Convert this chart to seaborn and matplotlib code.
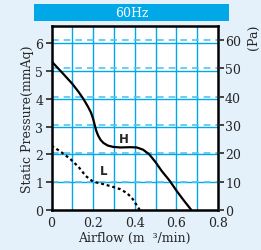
import numpy as np
import matplotlib
matplotlib.use("Agg")
import matplotlib.pyplot as plt
import seaborn as sns
import pandas as pd

# curve data (airflow m3/min, static pressure mmAq)
h_flow = [0.0, 0.05, 0.1, 0.13, 0.153, 0.175, 0.19, 0.2, 0.208, 0.215, 0.224, 0.236, 0.25, 0.27, 0.296,
          0.33, 0.38, 0.41, 0.44, 0.47, 0.5, 0.53, 0.568, 0.6, 0.635, 0.672]
h_pres = [5.35, 4.95, 4.54, 4.25, 4.0, 3.72, 3.5, 3.28, 3.05, 2.85, 2.68, 2.52, 2.41, 2.32, 2.27,
          2.25, 2.26, 2.25, 2.17, 2.0, 1.72, 1.4, 1.05, 0.7, 0.35, 0.0]
l_flow = [0.0, 0.04, 0.088, 0.13, 0.165, 0.2, 0.25, 0.296, 0.33, 0.36, 0.385, 0.4, 0.424]
l_pres = [2.31, 2.12, 1.85, 1.55, 1.22, 1.02, 0.93, 0.83, 0.75, 0.62, 0.45, 0.28, 0.0]

x_ticks = [0, 0.2, 0.4, 0.6, 0.8]
mmaq_ticks = [0, 1, 2, 3, 4, 5, 6]
pa_ticks = [0, 10, 20, 30, 40, 50, 60]
PA_PER_MMAQ = 9.80665

BG = "#e4f1fb"
BLUE = "#00a8e8"

sns.set_style("white")
plt.rcParams["font.family"] = ["DejaVu Serif"]

fig = plt.figure(figsize=(2.61, 2.51), dpi=100, facecolor=BG)
ax = fig.add_axes([51.5 / 261, 1 - 211 / 251, 166.5 / 261, 184 / 251])
ax.set_facecolor("white")

ymax = 6.62
ax.set_xlim(0, 0.8)
ax.set_ylim(0, ymax)

# grid: solid at mmAq and 0.1 airflow, dashed at Pa
for gx in np.arange(0.1, 0.8, 0.1):
    ax.axvline(gx, color=BLUE, lw=1.0, zorder=1)
for gy in mmaq_ticks[1:]:
    ax.axhline(gy, color=BLUE, lw=1.0, zorder=1)
for p in pa_ticks[1:]:
    ax.axhline(p / PA_PER_MMAQ, color="#55c4f0", lw=1.2, ls=(0, (4, 3)), zorder=1)

h_df = pd.DataFrame({"flow": h_flow, "pres": h_pres})
l_df = pd.DataFrame({"flow": l_flow, "pres": l_pres})
sns.lineplot(data=h_df, x="flow", y="pres", ax=ax, color="black", lw=1.6, sort=False, zorder=3)
sns.lineplot(data=l_df, x="flow", y="pres", ax=ax, color="black", lw=1.6, sort=False,
             linestyle=(0, (1.3, 1.3)), zorder=3)

ax.text(0.347, 2.59, "H", fontsize=8.5, fontweight="bold", family="DejaVu Sans", ha="center", va="center")
ax.text(0.252, 1.41, "L", fontsize=8.5, fontweight="bold", family="DejaVu Sans", ha="center", va="center")

ax.set_xticks(x_ticks)
ax.set_xticklabels(["0", "0.2", "0.4", "0.6", "0.8"])
ax.set_yticks(mmaq_ticks)
ax.tick_params(axis="x", length=0, labelsize=9, pad=4)
ax.tick_params(axis="y", length=4, width=1.2, labelsize=9, pad=2, direction="out", left=True)
for s in ax.spines.values():
    s.set_color("black")
    s.set_linewidth(1.8)
ax.set_xlabel("Airflow (m  ³/min)", fontsize=9, labelpad=2)
ax.set_ylabel("Static Pressure(mmAq)", fontsize=9, labelpad=1)

ax2 = ax.twinx()
ax2.set_ylim(0, ymax * PA_PER_MMAQ)
ax2.set_yticks(pa_ticks)
ax2.tick_params(axis="y", length=4, width=1.2, labelsize=9, pad=1, direction="out", right=True)
for s in ax2.spines.values():
    s.set_visible(False)
fig.text(253 / 261, 1 - 37 / 251, "(Pa)", rotation=90, fontsize=9, ha="center", va="center")

# title bar
fig.patches.append(plt.Rectangle((34 / 261, 1 - 22 / 251), 195 / 261, 17 / 251,
                                 transform=fig.transFigure, facecolor=BLUE, edgecolor="none"))
fig.text(131.5 / 261, 1 - 13.5 / 251, "60Hz", color="white", fontsize=9, ha="center", va="center")

fig.savefig("out.png", dpi=100, facecolor=BG)
